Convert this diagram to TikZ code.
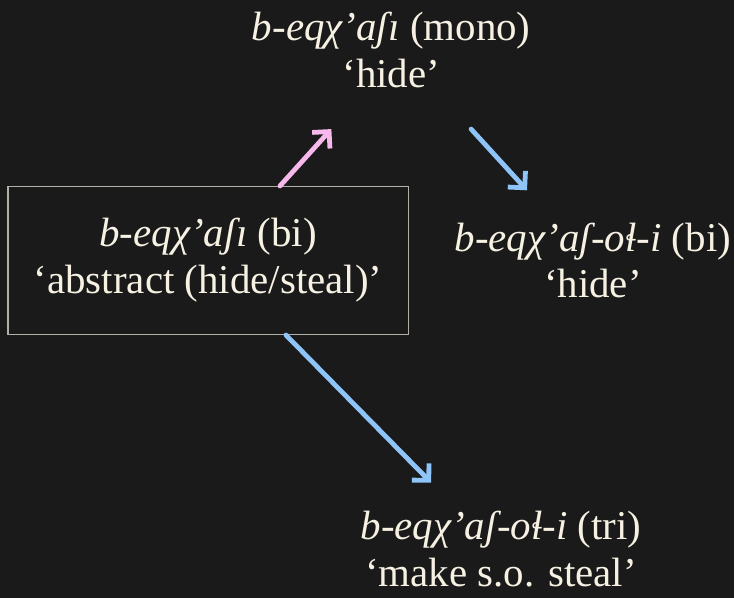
\documentclass[tikz,border=0pt]{standalone}
\usepackage{fontspec}
\setmainfont{Liberation Serif}
\usetikzlibrary{arrows.meta,positioning}
\definecolor{bg}{HTML}{1A1A1A}
\definecolor{ink}{HTML}{F6F1E3}
\definecolor{pinkarr}{HTML}{F7B9EC}
\definecolor{bluearr}{HTML}{8EC4F7}
\begin{document}
\begin{tikzpicture}[x=0.5pt,y=-0.5pt,>={Straight Barb[length=6pt,width=12pt]},
  font=\fontsize{20.5}{23.5}\selectfont,
  lex/.style={text=ink,align=center,inner sep=2pt},
  frame/.style={lex,draw=ink!70!bg,line width=0.7pt,minimum width=200.5pt,minimum height=74pt},
  der/.style={->,line width=2.4pt,line cap=round}]
\fill[bg] (0,0) rectangle (735,599);
\node[frame] (bi) at (208.5,261) {\textit{b-eqχ'aʃı} (bi)\\`abstract (hide/steal)'};
\node[lex] (mono) at (392,50) {\textit{b-eqχ'aʃı} (mono)\\`hide'};
\node[lex] (bi2) at (594,261) {\textit{b-eqχ'aʃ-oɬ-i} (bi)\\`hide'};
\node[lex] (tri) at (502,550) {\textit{b-eqχ'aʃ-oɬ-i} (tri)\\`make s.o. steal'};
% derivations
\draw[der,pinkarr] ([xshift=36pt]bi.north) -- ([xshift=-30pt,yshift=-18.5pt]mono.south);
\draw[der,bluearr] ([xshift=40pt,yshift=-18.5pt]mono.south) -- ([xshift=-33pt,yshift=14pt]bi2.north);
\draw[der,bluearr] ([xshift=39pt]bi.south) -- ([xshift=-35pt,yshift=12pt]tri.north);
\end{tikzpicture}
\end{document}
